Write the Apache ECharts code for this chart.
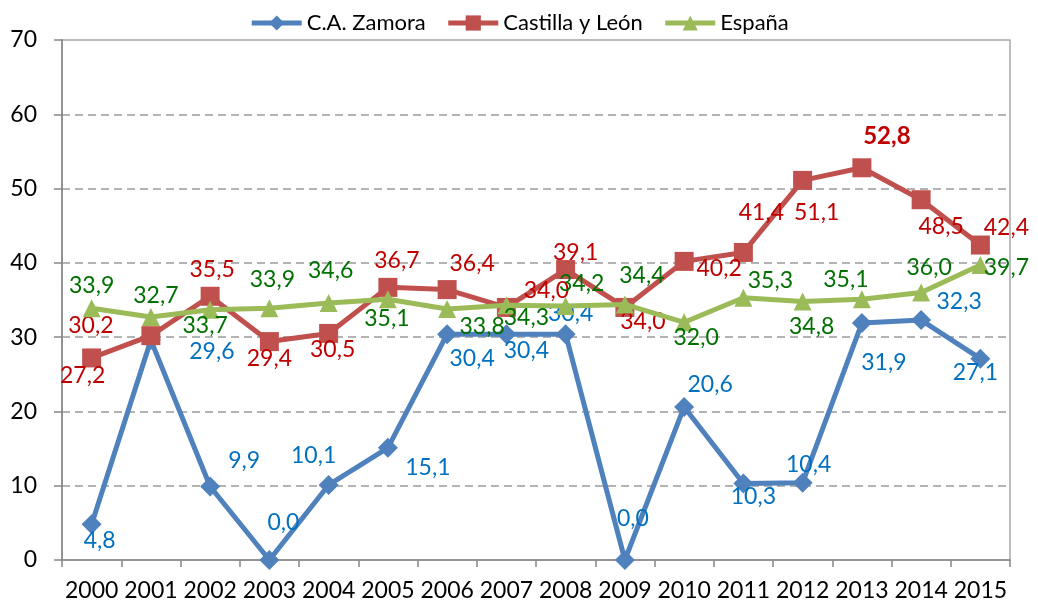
<!DOCTYPE html>
<html>
<head>
<meta charset="utf-8">
<script src="https://cdn.jsdelivr.net/npm/echarts@6/dist/echarts.min.js"></script>
<style>
html,body{margin:0;padding:0;background:#fff;}
#chart{width:1038px;height:610px;}
</style>
</head>
<body>
<div id="chart"></div>
<script>
const years = ['2000','2001','2002','2003','2004','2005','2006','2007','2008','2009','2010','2011','2012','2013','2014','2015'];
const zamora = [4.8,29.6,9.9,0.0,10.1,15.1,30.4,30.4,30.4,0.0,20.6,10.3,10.4,31.9,32.3,27.1];
const castilla = [27.2,30.2,35.5,29.4,30.5,36.7,36.4,34.0,39.1,34.0,40.2,41.4,51.1,52.8,48.5,42.4];
const espana = [33.9,32.7,33.7,33.9,34.6,35.1,33.8,34.3,34.2,34.4,32.0,35.3,34.8,35.1,36.0,39.7];
const seriesNames = ['C.A. Zamora','Castilla y León','España'];
const yTicks = {min:0,max:70,interval:10};

// label placement (pixel shift of each value label from its point)
const shiftZamora = [[8,16],[61,11],[34,-26],[14,-37],[-15,-29],[40,20],[25,24],[20,16],[5,-21],[8,-41],[26,-22],[10,13],[6,-18],[22,40],[38,-18],[-5,14]];
const shiftCastilla = [[-9,18],[-60,-10],[2,-27],[0,17],[4,16],[9,-27],[25,-26],[40,-17],[10,-17],[18,14],[35,7],[18,-40],[14,32],[25,-32],[20,27],[26,-17]];
const shiftEspana = [[0,-23],[5,-22],[-5,16],[3,-29],[2,-32],[-1,19],[35,18],[20,12],[16,-22],[17,-29],[12,15],[27,-17],[9,25],[-16,-20],[8,-25],[26,2]];

const FONT = 'Lato';
const fmt = v => v.toFixed(1).replace('.', ',');

function mkData(vals, shifts, labelColor, boldIdx) {
  return vals.map((v, i) => ({
    value: v,
    label: {
      show: true,
      position: 'inside',
      offset: shifts[i],
      color: labelColor,
      fontFamily: FONT,
      fontSize: i === boldIdx ? 24 : 23,
      fontWeight: i === boldIdx ? 'bold' : 'normal',
      align: 'center',
      verticalAlign: 'middle',
      formatter: p => fmt(p.value)
    }
  }));
}

const chart = echarts.init(document.getElementById('chart'), null, {renderer: 'canvas'});
chart.setOption({
  animation: false,
  backgroundColor: '#fff',
  legend: {
    top: 7,
    left: 'center',
    itemWidth: 50,
    itemHeight: 19,
    itemGap: 20,
    lineStyle: {width: 5},
    textStyle: {fontFamily: FONT, fontSize: 22, color: '#000'},
    data: seriesNames
  },
  grid: {
    left: 62, right: 28, top: 40, bottom: 50,
    show: true, borderColor: '#a6a6a6', borderWidth: 1.5, backgroundColor: 'transparent'
  },
  xAxis: {
    type: 'category',
    data: years,
    boundaryGap: true,
    axisLine: {lineStyle: {color: '#868686', width: 1.5}},
    axisTick: {show: true, length: 7, lineStyle: {color: '#868686', width: 1.5}},
    axisLabel: {color: '#000', fontFamily: FONT, fontSize: 23, margin: 19, interval: 0}
  },
  yAxis: {
    type: 'value',
    min: yTicks.min, max: yTicks.max, interval: yTicks.interval,
    axisLine: {show: true, lineStyle: {color: '#868686', width: 1.5}},
    axisTick: {show: true, length: 8, lineStyle: {color: '#868686', width: 1.5}},
    axisLabel: {color: '#000', fontFamily: FONT, fontSize: 23, margin: 25},
    splitLine: {show: true, showMinLine: false, showMaxLine: false, lineStyle: {color: '#9a9a9a', width: 1.5, type: [8, 5]}}
  },
  series: [
    {
      name: seriesNames[0], type: 'line', data: mkData(zamora, shiftZamora, '#0070C0', -1),
      symbol: 'diamond', symbolSize: 20,
      lineStyle: {color: '#4F81BD', width: 5},
      itemStyle: {color: '#4F81BD'}, z: 2
    },
    {
      name: seriesNames[1], type: 'line', data: mkData(castilla, shiftCastilla, '#C00000', 13),
      symbol: 'rect', symbolSize: 19,
      lineStyle: {color: '#C0504D', width: 5},
      itemStyle: {color: '#C0504D'}, z: 3
    },
    {
      name: seriesNames[2], type: 'line', data: mkData(espana, shiftEspana, '#007000', -1),
      symbol: 'triangle', symbolSize: 18,
      lineStyle: {color: '#9BBB59', width: 5},
      itemStyle: {color: '#9BBB59'}, z: 4
    }
  ]
});
</script>
</body>
</html>
